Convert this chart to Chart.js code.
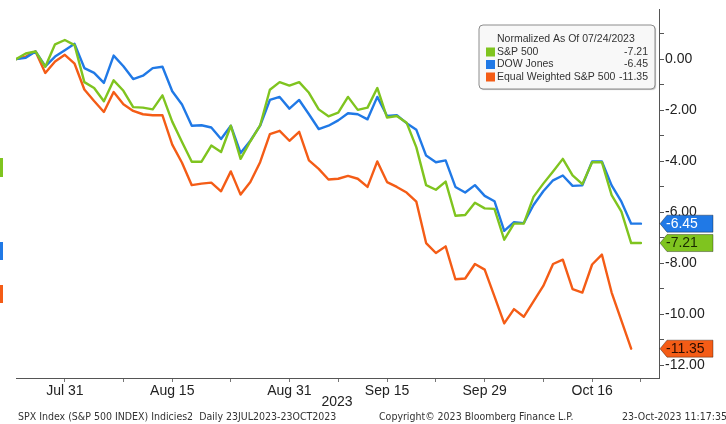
<!DOCTYPE html>
<html><head><meta charset="utf-8">
<style>html,body{margin:0;padding:0;background:#fff;overflow:hidden}canvas{display:block}</style>
<script src="https://cdn.jsdelivr.net/npm/chart.js@4.4.0/dist/chart.umd.min.js"></script>
</head><body>
<canvas id="c" width="726" height="424"></canvas>
<script>
// ---- data ----
const dates = ['Jul 24','Jul 25','Jul 26','Jul 27','Jul 28','Jul 31','Aug 1','Aug 2','Aug 3','Aug 4',
  'Aug 7','Aug 8','Aug 9','Aug 10','Aug 11','Aug 14','Aug 15','Aug 16','Aug 17','Aug 18',
  'Aug 21','Aug 22','Aug 23','Aug 24','Aug 25','Aug 28','Aug 29','Aug 30','Aug 31','Sep 1',
  'Sep 5','Sep 6','Sep 7','Sep 8','Sep 11','Sep 12','Sep 13','Sep 14','Sep 15','Sep 18',
  'Sep 19','Sep 20','Sep 21','Sep 22','Sep 25','Sep 26','Sep 27','Sep 28','Sep 29','Oct 2',
  'Oct 3','Oct 4','Oct 5','Oct 6','Oct 9','Oct 10','Oct 11','Oct 12','Oct 13','Oct 16',
  'Oct 17','Oct 18','Oct 19','Oct 20','Oct 23'];
const sp500 = [0,0.22,0.3,-0.3,0.58,0.75,0.55,-0.9,-1.13,-1.65,
  -0.83,-1.24,-1.88,-1.9,-1.97,-1.42,-2.45,-3.25,-4.02,-4.02,
  -3.39,-3.64,-2.61,-3.91,-3.22,-2.6,-1.2,-0.9,-1.04,-0.9,
  -1.32,-1.97,-2.24,-2.1,-1.48,-1.99,-1.9,-1.13,-2.29,-2.23,
  -2.49,-3.46,-4.94,-5.12,-4.8,-6.14,-6.11,-5.63,-5.85,-5.87,
  -7.08,-6.45,-6.45,-5.4,-4.88,-4.4,-3.91,-4.56,-4.9,-4.04,
  -4.04,-5.33,-5.98,-7.21,-7.21];
const dowJones = [0,0.05,0.3,-0.28,0.1,0.35,0.6,-0.35,-0.54,-0.93,
  0.14,-0.28,-0.78,-0.65,-0.35,-0.3,-1.26,-1.78,-2.61,-2.59,
  -2.68,-3.13,-2.61,-3.68,-3.2,-2.61,-1.6,-1.48,-1.94,-1.6,
  -2.16,-2.74,-2.61,-2.4,-2.12,-2.16,-2.36,-1.48,-2.23,-2.2,
  -2.51,-2.77,-3.78,-4.04,-3.97,-5.01,-5.23,-4.94,-5.36,-5.57,
  -6.73,-6.39,-6.43,-5.72,-5.18,-4.75,-4.56,-4.97,-4.95,-4.01,
  -4.01,-4.95,-5.59,-6.45,-6.45];
const equalWeighted = [0,0.1,0.3,-0.54,-0.09,0.17,-0.18,-1.19,-1.64,-2.07,
  -1.29,-1.77,-2.03,-2.16,-2.2,-2.2,-3.35,-4.06,-4.94,-4.88,
  -4.84,-5.18,-4.4,-5.31,-4.82,-4.04,-2.94,-2.81,-3.2,-2.85,
  -3.97,-4.3,-4.72,-4.69,-4.58,-4.69,-5.01,-4.01,-4.82,-5.01,
  -5.23,-5.59,-7.21,-7.6,-7.34,-8.63,-8.6,-8.03,-8.25,-9.3,
  -10.36,-9.8,-10.1,-9.5,-8.89,-8.03,-7.86,-9.02,-9.15,-8.05,
  -7.66,-9.15,-10.25,-11.35,null];
const seriesNames = ['S&P 500','DOW Jones','Equal Weighted S&P 500'];
const legendTitle = 'Normalized As Of 07/24/2023';
const xMajorTicks = ['Jul 31','Aug 15','Aug 31','Sep 15','Sep 29','Oct 16'];
const xMinorTicks = ['Aug 8','Aug 23','Sep 8','Sep 22','Oct 9','Oct 23'];
const yMajorTicks = [0,-2,-4,-6,-8,-10,-12];
const yMinorTicks = [1,-1,-3,-5,-7,-9,-11];
const yearLabel = '2023';
const footerLeft = 'SPX Index (S&P 500 INDEX) Indicies2  Daily 23JUL2023-23OCT2023';
const footerMid = 'Copyright\u00A9 2023 Bloomberg Finance L.P.';
const footerRight = '23-Oct-2023 11:17:35';

// ---- style ----
const FONT = "'Liberation Sans', Arial, sans-serif";
const FOOT_FONT = "'DejaVu Sans Condensed', 'Liberation Sans', sans-serif";
const COLORS = ['#7fc41f', '#2079e6', '#f45c16'];
const TAG_TEXT = ['#1a2a00', '#ffffff', '#2a0d00'];

const decor = {
  id: 'decor',
  afterDraw(chart) {
    const ctx = chart.ctx, area = chart.chartArea, ys = chart.scales.y;
    ctx.save();
    // cropped neighbour marks at the left edge
    ctx.fillStyle = COLORS[0]; ctx.fillRect(0, 158, 3, 19);
    ctx.fillStyle = COLORS[1]; ctx.fillRect(0, 242, 3, 18);
    ctx.fillStyle = COLORS[2]; ctx.fillRect(0, 285, 3, 18);

    // legend box
    const bx = 479, by = 25, bw = 176, bh = 64;
    ctx.shadowColor = 'rgba(0,0,0,0.25)'; ctx.shadowOffsetX = 1; ctx.shadowOffsetY = 1; ctx.shadowBlur = 1;
    ctx.beginPath(); ctx.roundRect(bx, by, bw, bh, 4);
    ctx.fillStyle = '#f8f8f8'; ctx.fill();
    ctx.shadowColor = 'transparent';
    ctx.strokeStyle = '#8c8c8c'; ctx.lineWidth = 1; ctx.stroke();
    ctx.font = '10.5px ' + FONT; ctx.textBaseline = 'middle'; ctx.fillStyle = '#333';
    ctx.textAlign = 'left';
    ctx.fillText(legendTitle, 497, 39.5);
    const rowsY = [52, 64.5, 77];
    chart.data.datasets.forEach((ds, i) => {
      const vals = ds.data.filter(p => p.y !== null);
      const last = vals[vals.length - 1].y;
      ctx.fillStyle = COLORS[i]; ctx.fillRect(486, rowsY[i] - 4.5, 9, 9);
      ctx.fillStyle = '#333'; ctx.textAlign = 'left';
      ctx.fillText(ds.label, 497, rowsY[i]);
      ctx.textAlign = 'right';
      ctx.fillText(last.toFixed(2), 648, rowsY[i]);
    });

    // last value tags on the right axis
    ctx.font = '14px ' + FONT; ctx.textAlign = 'left';
    [2, 0, 1].forEach(i => {
      const ds = chart.data.datasets[i];
      const vals = ds.data.filter(p => p.y !== null);
      const last = vals[vals.length - 1].y;
      const y = ys.getPixelForValue(last);
      const x0 = area.right + 1, h = 8.5;
      ctx.beginPath();
      ctx.moveTo(x0, y); ctx.lineTo(x0 + 7, y - h); ctx.lineTo(713, y - h);
      ctx.lineTo(713, y + h); ctx.lineTo(x0 + 7, y + h); ctx.closePath();
      ctx.fillStyle = COLORS[i]; ctx.fill();
      ctx.strokeStyle = 'rgba(0,0,0,0.35)'; ctx.lineWidth = 1; ctx.stroke();
      ctx.fillStyle = TAG_TEXT[i];
      ctx.fillText(last.toFixed(2), x0 + 6, y + 0.5);
    });

    // year and footer
    ctx.fillStyle = '#222'; ctx.textAlign = 'center'; ctx.font = '14px ' + FONT;
    ctx.fillText(yearLabel, 337, 402);
    ctx.font = '10.5px ' + FOOT_FONT; ctx.fillStyle = '#333'; ctx.textAlign = 'left';
    ctx.fillText(footerLeft, 18, 417);
    ctx.fillText(footerMid, 379, 417);
    ctx.textAlign = 'right';
    ctx.fillText(footerRight, 727, 417);
    ctx.restore();
  }
};

const mkDs = (label, data, i) => ({
  label, data: data.map((v, k) => ({ x: k, y: v })),
  borderColor: COLORS[i], backgroundColor: COLORS[i],
  borderWidth: 2.4, pointRadius: 0, tension: 0, spanGaps: false,
  borderJoinStyle: 'round', borderCapStyle: 'round', fill: false
});

new Chart(document.getElementById('c'), {
  type: 'line',
  data: {
    datasets: [mkDs(seriesNames[0], sp500, 0), mkDs(seriesNames[1], dowJones, 1), mkDs(seriesNames[2], equalWeighted, 2)]
  },
  options: {
    responsive: false, animation: false, devicePixelRatio: 1,
    layout: { padding: { left: 16, top: 7, right: 0, bottom: 0 } },
    plugins: { legend: { display: false }, tooltip: { enabled: false }, title: { display: false } },
    scales: {
      x: {
        type: 'linear', min: 0, max: dates.length + 0.85,
        afterBuildTicks(axis) {
          axis.ticks = xMajorTicks.concat(xMinorTicks).map(d => ({ value: dates.indexOf(d) }))
            .sort((a, b) => a.value - b.value);
        },
        afterFit(axis) { axis.height = 46; },
        ticks: {
          autoSkip: false, maxRotation: 0, minRotation: 0, padding: 1, color: '#222',
          font: { family: FONT, size: 14 },
          callback(v) { const d = dates[v]; return xMajorTicks.includes(d) ? d : ''; }
        },
        grid: { display: true, drawOnChartArea: false, drawTicks: true, tickLength: 4, color: '#777', lineWidth: 1 },
        border: { display: true, color: '#555', width: 1 }
      },
      y: {
        type: 'linear', position: 'right', min: -12.5, max: 1.95,
        afterBuildTicks(axis) {
          axis.ticks = yMajorTicks.concat(yMinorTicks).sort((a, b) => a - b).map(v => ({ value: v }));
        },
        afterFit(axis) { axis.width = 67; },
        ticks: {
          padding: 1, color: '#222', font: { family: FONT, size: 14 },
          callback(v) { return yMajorTicks.includes(v) ? v.toFixed(2) : ''; }
        },
        grid: { display: true, drawOnChartArea: false, drawTicks: true, tickLength: 5, color: '#555', lineWidth: 1 },
        border: { display: true, color: '#555', width: 1 }
      }
    }
  },
  plugins: [decor]
});
</script>
</body></html>
